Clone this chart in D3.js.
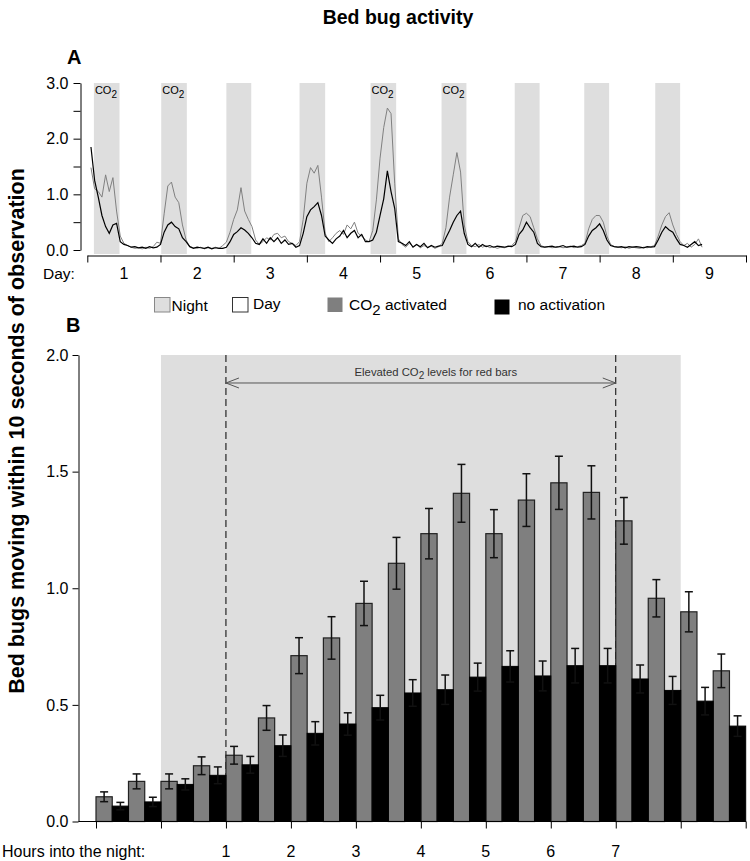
<!DOCTYPE html>
<html>
<head>
<meta charset="utf-8">
<script src="https://cdn.jsdelivr.net/npm/d3@7"></script>
<style>
  body { margin: 0; background: #fff; }
  svg { font-family: "Liberation Sans", Arial, Helvetica, sans-serif; }
</style>
</head>
<body>
<svg id="chart" width="750" height="861"></svg>
<script>
// ---- panel A: activity traces, sampled every 0.05 day from day 0.05 ----
const sampleStart = 0.05, sampleStep = 0.05;

const co2Trace = [
  1.48, 1.10, 1.05, 0.95, 1.35, 1.05, 1.30, 0.70, 0.25, 0.12, 0.08, 0.05, 0.03, 0.04, 0.02, 0.05, 0.03, 0.06, 0.14, 0.12,
  0.65, 1.15, 1.22, 0.95, 0.85, 0.45, 0.18, 0.06, 0.04, 0.03, 0.05, 0.02, 0.04, 0.03, 0.05, 0.03, 0.08, 0.14, 0.32, 0.55,
  0.72, 1.12, 0.70, 0.55, 0.42, 0.18, 0.10, 0.15, 0.22, 0.18, 0.28, 0.30, 0.22, 0.25, 0.15, 0.12, 0.08, 0.15, 0.55, 1.20,
  1.48, 1.38, 1.52, 0.95, 0.30, 0.15, 0.22, 0.30, 0.35, 0.28, 0.45, 0.38, 0.50, 0.30, 0.25, 0.18, 0.15, 0.35, 0.90, 1.65,
  2.20, 2.55, 2.45, 1.20, 0.20, 0.10, 0.05, 0.12, 0.06, 0.10, 0.04, 0.08, 0.05, 0.07, 0.03, 0.06, 0.12, 0.40, 0.95, 1.35,
  1.75, 1.40, 0.45, 0.15, 0.08, 0.06, 0.10, 0.05, 0.08, 0.04, 0.06, 0.03, 0.05, 0.04, 0.06, 0.08, 0.15, 0.40, 0.62, 0.66,
  0.60, 0.40, 0.20, 0.08, 0.05, 0.06, 0.04, 0.05, 0.06, 0.04, 0.05, 0.07, 0.04, 0.06, 0.08, 0.12, 0.38, 0.55, 0.62, 0.62,
  0.50, 0.25, 0.10, 0.06, 0.05, 0.04, 0.06, 0.03, 0.05, 0.04, 0.03, 0.05, 0.04, 0.06, 0.08, 0.25, 0.45, 0.60, 0.67, 0.45,
  0.28, 0.15, 0.08, 0.12, 0.05, 0.10, 0.20, 0.05
];

const noActTrace = [
  1.85, 1.25, 0.95, 0.62, 0.42, 0.30, 0.45, 0.48, 0.15, 0.10, 0.08, 0.05, 0.06, 0.04, 0.05, 0.03, 0.06, 0.04, 0.05, 0.10,
  0.32, 0.45, 0.50, 0.42, 0.38, 0.22, 0.15, 0.06, 0.03, 0.05, 0.04, 0.03, 0.05, 0.02, 0.04, 0.03, 0.03, 0.05, 0.15, 0.28,
  0.33, 0.40, 0.36, 0.30, 0.22, 0.12, 0.10, 0.20, 0.12, 0.22, 0.15, 0.22, 0.12, 0.18, 0.10, 0.12, 0.05, 0.08, 0.30, 0.60,
  0.72, 0.78, 0.85, 0.62, 0.25, 0.18, 0.12, 0.20, 0.25, 0.35, 0.22, 0.30, 0.35, 0.22, 0.28, 0.15, 0.15, 0.18, 0.32, 0.62,
  0.92, 1.42, 1.05, 0.75, 0.15, 0.12, 0.08, 0.15, 0.05, 0.10, 0.06, 0.12, 0.04, 0.08, 0.05, 0.07, 0.08, 0.22, 0.35, 0.50,
  0.62, 0.70, 0.30, 0.10, 0.06, 0.12, 0.05, 0.10, 0.06, 0.08, 0.05, 0.07, 0.06, 0.05, 0.07, 0.06, 0.10, 0.28, 0.36, 0.50,
  0.40, 0.32, 0.12, 0.06, 0.05, 0.06, 0.07, 0.05, 0.06, 0.08, 0.05, 0.06, 0.07, 0.05, 0.06, 0.10, 0.25, 0.35, 0.40, 0.47,
  0.35, 0.18, 0.08, 0.06, 0.05, 0.06, 0.04, 0.06, 0.05, 0.06, 0.05, 0.04, 0.06, 0.05, 0.06, 0.18, 0.32, 0.42, 0.36, 0.32,
  0.20, 0.10, 0.08, 0.05, 0.10, 0.15, 0.08, 0.10
];

const nightStart = [0.09, 1.01, 1.90, 2.90, 3.87, 4.84, 5.84, 6.79, 7.76];
const nightEnd   = [0.44, 1.36, 2.24, 3.25, 4.22, 5.18, 6.18, 7.13, 8.10];
const co2Nights = [0, 1, 4, 5];
const dayLabels = [1, 2, 3, 4, 5, 6, 7, 8, 9];

// ---- panel B: mean activity per half hour ----
const halfHours = [-1, -0.5, 0, 0.5, 1, 1.5, 2, 2.5, 3, 3.5, 4, 4.5, 5, 5.5, 6, 6.5, 7, 7.5, 8, 8.5];
const co2Mean = [0.106, 0.172, 0.172, 0.239, 0.284, 0.444, 0.711, 0.787, 0.935, 1.107,
                 1.234, 1.407, 1.234, 1.378, 1.452, 1.411, 1.289, 0.957, 0.899, 0.646];
const co2Err  = [0.021, 0.032, 0.032, 0.038, 0.038, 0.053, 0.077, 0.091, 0.095, 0.111,
                 0.108, 0.124, 0.103, 0.113, 0.114, 0.114, 0.100, 0.080, 0.086, 0.072];
const ctrlMean = [0.066, 0.084, 0.159, 0.198, 0.243, 0.325, 0.378, 0.418, 0.488, 0.551,
                  0.565, 0.619, 0.665, 0.624, 0.668, 0.668, 0.611, 0.562, 0.516, 0.409];
const ctrlErr  = [0.016, 0.020, 0.024, 0.036, 0.036, 0.046, 0.050, 0.048, 0.053, 0.057,
                  0.063, 0.060, 0.067, 0.064, 0.074, 0.074, 0.060, 0.060, 0.059, 0.044];
const hourLabels = [1, 2, 3, 4, 5, 6, 7];

const NIGHT_FILL = "#dedede";
const GREY = "#7f7f7f";

const svg = d3.select("#chart");

svg.append("text")
  .attr("x", 398).attr("y", 24)
  .attr("text-anchor", "middle")
  .attr("font-weight", "bold").attr("font-size", 19.5)
  .text("Bed bug activity");

svg.append("text")
  .attr("transform", "translate(24,431) rotate(-90)")
  .attr("text-anchor", "middle")
  .attr("font-weight", "bold").attr("font-size", 21.5)
  .text("Bed bugs moving within 10 seconds of observation");

// ================= Panel A =================
const xA = d3.scaleLinear().domain([0, 9]).range([87.3, 746]);
const yA = d3.scaleLinear().domain([0, 3]).range([250, 83]);

svg.append("text").attr("x", 67).attr("y", 64)
  .attr("font-weight", "bold").attr("font-size", 20).text("A");

const gA = svg.append("g");

gA.selectAll("rect.night")
  .data(nightStart)
  .join("rect")
  .attr("class", "night")
  .attr("x", d => xA(d))
  .attr("width", (d, i) => xA(nightEnd[i]) - xA(d))
  .attr("y", yA(3))
  .attr("height", yA(0) + 4 - yA(3))
  .attr("fill", NIGHT_FILL);

const co2Lbl = gA.selectAll("text.co2")
  .data(co2Nights)
  .join("text")
  .attr("class", "co2")
  .attr("x", i => xA(nightStart[i]) + 1)
  .attr("y", yA(3) + 11)
  .attr("font-size", 11);
co2Lbl.append("tspan").text("CO");
co2Lbl.append("tspan").attr("dy", 4).attr("font-size", 10).text("2");

const lineA = d3.line()
  .x((d, i) => xA(sampleStart + i * sampleStep))
  .y(d => yA(d));

gA.append("path").datum(co2Trace)
  .attr("d", lineA).attr("fill", "none")
  .attr("stroke", "#808080").attr("stroke-width", 1);
gA.append("path").datum(noActTrace)
  .attr("d", lineA).attr("fill", "none")
  .attr("stroke", "#000").attr("stroke-width", 1.2);

const axAy = gA.append("g")
  .attr("transform", "translate(80.5,0)")
  .call(d3.axisLeft(yA)
    .tickValues(d3.range(0, 3.01, 0.5))
    .tickFormat(d => d % 1 === 0 ? d.toFixed(1) : "")
    .tickSize(7).tickSizeOuter(0).tickPadding(5));
axAy.selectAll("text").attr("font-size", 16).attr("fill", "#000");

const axAx = gA.append("g")
  .attr("transform", "translate(0,255.5)")
  .call(d3.axisBottom(xA)
    .tickValues(d3.range(0, 10))
    .tickFormat("")
    .tickSize(7).tickSizeOuter(0));

gA.selectAll("text.day")
  .data(dayLabels)
  .join("text")
  .attr("class", "day")
  .attr("x", d => xA(d - 0.5))
  .attr("y", 279)
  .attr("text-anchor", "middle")
  .attr("font-size", 16)
  .text(d => d);

gA.append("text").attr("x", 43).attr("y", 279)
  .attr("font-size", 15.5).text("Day:");

// ================= Legend =================
const leg = svg.append("g").attr("font-size", 15.5);
leg.append("rect").attr("x", 154.5).attr("y", 297.5).attr("width", 15.5).attr("height", 14.5)
  .attr("fill", NIGHT_FILL).attr("stroke", "#888");
leg.append("text").attr("x", 171.5).attr("y", 311).text("Night");
leg.append("rect").attr("x", 232.5).attr("y", 297.5).attr("width", 15.5).attr("height", 14.5)
  .attr("fill", "#fff").attr("stroke", "#333");
leg.append("text").attr("x", 253).attr("y", 309).text("Day");
leg.append("rect").attr("x", 327.5).attr("y", 297.5).attr("width", 15).attr("height", 14.5)
  .attr("fill", GREY);
const legCo2 = leg.append("text").attr("x", 349).attr("y", 310);
legCo2.append("tspan").text("CO");
legCo2.append("tspan").attr("dy", 5).attr("font-size", 15).text("2");
legCo2.append("tspan").attr("dy", -5).text(" activated");
leg.append("rect").attr("x", 494.5).attr("y", 299.5).attr("width", 15).attr("height", 15)
  .attr("fill", "#000");
leg.append("text").attr("x", 518).attr("y", 310).text("no activation");

// ================= Panel B =================
const xB = d3.scaleLinear().domain([-1, 9]).range([96, 745.7]);
const yB = d3.scaleLinear().domain([0, 2]).range([821.5, 355]);

svg.append("text").attr("x", 66).attr("y", 332)
  .attr("font-weight", "bold").attr("font-size", 20).text("B");

const gB = svg.append("g");

gB.append("rect")
  .attr("x", xB(0)).attr("width", xB(8) - xB(0))
  .attr("y", yB(2)).attr("height", yB(0) - yB(2))
  .attr("fill", NIGHT_FILL);

gB.selectAll("line.co2period")
  .data([1, 7])
  .join("line")
  .attr("class", "co2period")
  .attr("x1", d => xB(d)).attr("x2", d => xB(d))
  .attr("y1", yB(2)).attr("y2", yB(0))
  .attr("stroke", "#000").attr("stroke-width", 1)
  .attr("stroke-dasharray", "7,4");

// double-headed arrow for the elevated CO2 period
const arrowY = yB(1.88);
const ax1 = xB(1), ax2 = xB(7);
gB.append("line")
  .attr("x1", ax1).attr("x2", ax2).attr("y1", arrowY).attr("y2", arrowY)
  .attr("stroke", "#555").attr("stroke-width", 1);
gB.append("path")
  .attr("d", `M${ax1 + 13},${arrowY - 5}L${ax1},${arrowY}L${ax1 + 13},${arrowY + 5}` +
             `M${ax2 - 13},${arrowY - 5}L${ax2},${arrowY}L${ax2 - 13},${arrowY + 5}`)
  .attr("fill", "none").attr("stroke", "#555").attr("stroke-width", 1);

const arrowTxt = gB.append("text")
  .attr("x", (ax1 + ax2) / 2 + 15).attr("y", arrowY - 7)
  .attr("text-anchor", "middle")
  .attr("font-size", 11.3).attr("fill", "#333");
arrowTxt.append("tspan").text("Elevated CO");
arrowTxt.append("tspan").attr("dy", 3).attr("font-size", 10).text("2");
arrowTxt.append("tspan").attr("dy", -3).text(" levels for red bars");

// bars
gB.selectAll("rect.co2bar")
  .data(halfHours)
  .join("rect")
  .attr("class", "co2bar")
  .attr("x", h => xB(h))
  .attr("width", h => xB(h + 0.25) - xB(h))
  .attr("y", (h, i) => yB(co2Mean[i]))
  .attr("height", (h, i) => yB(0) - yB(co2Mean[i]))
  .attr("fill", GREY).attr("stroke", "#222").attr("stroke-width", 1.2);

gB.selectAll("rect.ctrlbar")
  .data(halfHours)
  .join("rect")
  .attr("class", "ctrlbar")
  .attr("x", h => xB(h + 0.25))
  .attr("width", h => xB(h + 0.5) - xB(h + 0.25))
  .attr("y", (h, i) => yB(ctrlMean[i]))
  .attr("height", (h, i) => yB(0) - yB(ctrlMean[i]))
  .attr("fill", "#000").attr("stroke", "#000").attr("stroke-width", 1);

// error bars
function errorBars(cls, offset, means, errs) {
  const g = gB.selectAll("g." + cls)
    .data(halfHours)
    .join("g")
    .attr("class", cls)
    .attr("stroke", "#111").attr("stroke-width", 1.5);
  const cx = h => xB(h + offset);
  g.append("line")
    .attr("x1", cx).attr("x2", cx)
    .attr("y1", (h, i) => yB(means[i] - errs[i]))
    .attr("y2", (h, i) => yB(means[i] + errs[i]));
  [1, -1].forEach(s => {
    g.append("line")
      .attr("x1", h => cx(h) - 4).attr("x2", h => cx(h) + 4)
      .attr("y1", (h, i) => yB(means[i] + s * errs[i]))
      .attr("y2", (h, i) => yB(means[i] + s * errs[i]));
  });
}
errorBars("co2err", 0.125, co2Mean, co2Err);
errorBars("ctrlerr", 0.375, ctrlMean, ctrlErr);

// axes
const axBy = gB.append("g")
  .attr("transform", "translate(78.5,0)")
  .call(d3.axisLeft(yB)
    .tickValues([0, 0.5, 1, 1.5, 2])
    .tickFormat(d3.format(".1f"))
    .tickSize(6).tickSizeOuter(0).tickPadding(4));
axBy.selectAll("text").attr("font-size", 16).attr("fill", "#000");

const axBx = gB.append("g")
  .attr("transform", "translate(0,821.5)")
  .call(d3.axisBottom(xB)
    .tickValues(d3.range(-1, 10))
    .tickFormat("")
    .tickSize(7).tickSizeOuter(0));
axBx.select(".domain").remove();
gB.append("line")
  .attr("x1", 78.5).attr("x2", xB(9))
  .attr("y1", 821.5).attr("y2", 821.5)
  .attr("stroke", "#000");

gB.selectAll("text.hour")
  .data(hourLabels)
  .join("text")
  .attr("class", "hour")
  .attr("x", d => xB(d))
  .attr("y", 857)
  .attr("text-anchor", "middle")
  .attr("font-size", 16)
  .text(d => d);

gB.append("text").attr("x", 2).attr("y", 857)
  .attr("font-size", 16).text("Hours into the night:");
</script>
</body>
</html>
